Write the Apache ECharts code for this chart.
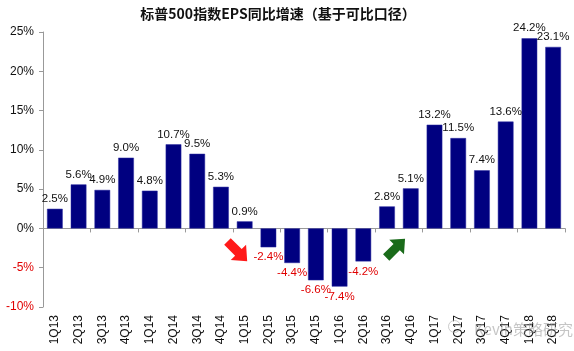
<!DOCTYPE html>
<html><head><meta charset="utf-8">
<script src="https://cdn.jsdelivr.net/npm/echarts@6/dist/echarts.min.js"></script>
<style>html,body{margin:0;padding:0;background:#fff}#c{width:574px;height:351px}</style>
</head><body><div id="c"></div>
<script>
var title = '标普500指数EPS同比增速（基于可比口径）';
var categories = ['1Q13','2Q13','3Q13','4Q13','1Q14','2Q14','3Q14','4Q14','1Q15','2Q15','3Q15','4Q15','1Q16','2Q16','3Q16','4Q16','1Q17','2Q17','3Q17','4Q17','1Q18','2Q18'];
var growth = [2.5,5.6,4.9,9.0,4.8,10.7,9.5,5.3,0.9,-2.4,-4.4,-6.6,-7.4,-4.2,2.8,5.1,13.2,11.5,7.4,13.6,24.2,23.1];
var yTicks = {min:-10, max:25, interval:5};
var watermark = 'Kevin策略研究';

var RED = '#e00000';
var font = 'Liberation Sans, Arial, sans-serif';
var downRight = 'path://M2.12,-2.12 L9.19,4.95 L12.02,2.12 L12.73,12.73 L2.12,12.02 L4.95,9.19 L-2.12,2.12 Z';
var upRight = 'path://M-2.12,-2.12 L4.95,-9.19 L2.12,-12.02 L12.73,-12.73 L12.02,-2.12 L9.19,-4.95 L2.12,2.12 Z';

var chart = echarts.init(document.getElementById('c'), null, {renderer:'canvas'});
chart.setOption({
  animation:false,
  title:{text:title,left:273,textAlign:'center',top:2,textStyle:{fontFamily:'Noto Sans CJK SC',fontSize:14,fontWeight:'bold',color:'#111'}},
  grid:{left:43,right:9,top:32,bottom:44},
  xAxis:[{
    type:'category',data:categories,position:'bottom',
    axisLine:{onZero:true,lineStyle:{color:'#999',width:1}},
    axisTick:{show:true,length:4,alignWithLabel:false,lineStyle:{color:'#999'}},
    axisLabel:{show:false}
  },{
    type:'category',data:categories,position:'bottom',
    axisLine:{show:false,onZero:false},axisTick:{show:false},
    axisLabel:{show:true,rotate:90,interval:0,margin:8,fontFamily:font,fontSize:12,color:'#111'}
  }],
  yAxis:{
    type:'value',min:yTicks.min,max:yTicks.max,interval:yTicks.interval,
    axisLine:{show:true,lineStyle:{color:'#999'}},
    axisTick:{show:true,length:4,lineStyle:{color:'#999'}},
    splitLine:{show:false},
    axisLabel:{margin:9,fontFamily:font,fontSize:12,formatter:'{value}%',
      color:function(v){return Number(v)<0?RED:'#111';}}
  },
  series:[{
    type:'bar',xAxisIndex:0,barWidth:'66%',
    data:growth.map(function(v){
      return v<0?{value:v,label:{position:'bottom',color:RED}}:{value:v};
    }),
    itemStyle:{color:'#000080',borderColor:'#2a2aa0',borderWidth:0.5},
    label:{show:true,fontFamily:font,fontSize:11.5,distance:4,
      formatter:function(p){return p.value.toFixed(1)+'%';},
      position:'top',color:'#111'},
    markPoint:{
      silent:true,label:{show:false},symbolKeepAspect:true,
      data:[
        {coord:['1Q15',-2.7],symbol:downRight,symbolSize:[23,23],symbolOffset:[-9,0],itemStyle:{color:'#ff1a1a'}},
        {coord:['3Q16',-2.7],symbol:upRight,symbolSize:[22,22],symbolOffset:[7,0],itemStyle:{color:'#1a6b1a'}}
      ]
    }
  }],
  graphic:[
    {type:'circle',left:446,bottom:16,z:100,shape:{r:6},style:{fill:'none',stroke:'rgba(170,170,170,0.6)',lineWidth:1}},
    {type:'text',right:1,bottom:14,z:100,style:{text:watermark,fontFamily:'Noto Sans CJK SC',fontSize:15,fill:'rgba(150,150,150,0.55)'}}
  ]
});
</script></body></html>
